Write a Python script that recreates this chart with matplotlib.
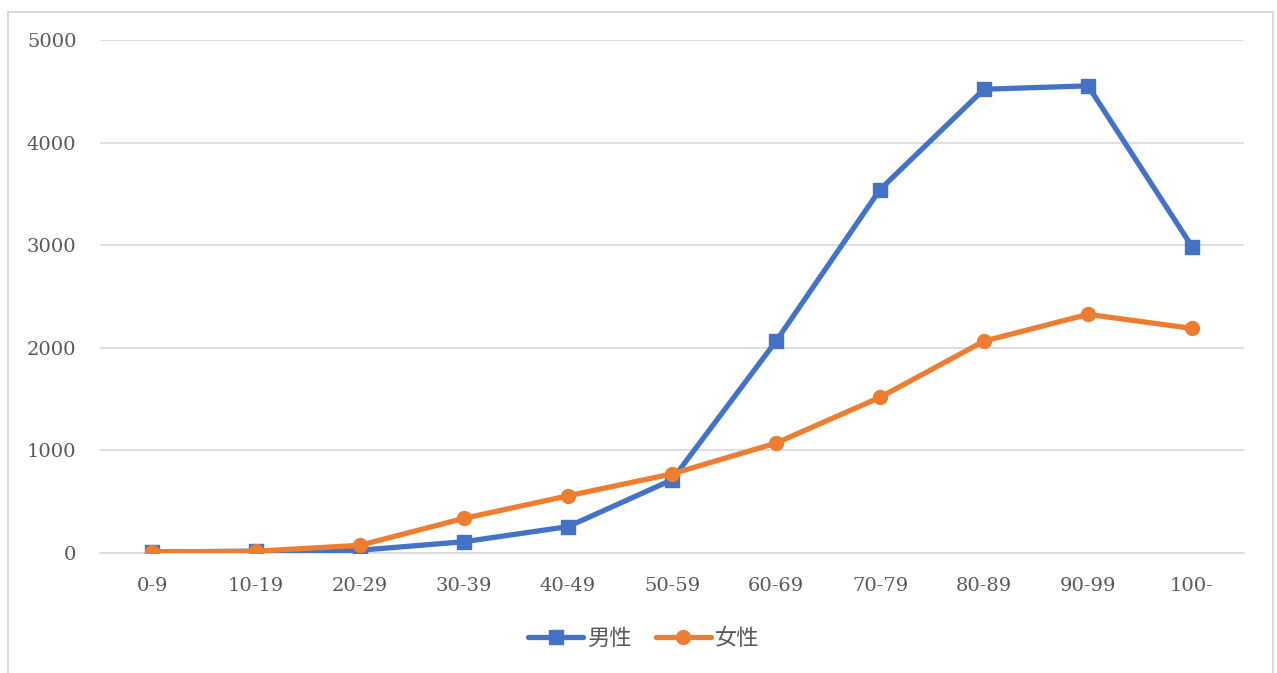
import matplotlib
matplotlib.use("Agg")
import matplotlib.pyplot as plt
from matplotlib.patches import Rectangle

# Age groups and counts
age_groups = ["0-9", "10-19", "20-29", "30-39", "40-49", "50-59",
              "60-69", "70-79", "80-89", "90-99", "100-"]
male = [10, 17, 27, 110, 257, 713, 2064, 3542, 4520, 4553, 2987]
female = [10, 17, 75, 338, 557, 771, 1071, 1517, 2065, 2326, 2189]
series_names = ["男性", "女性"]

blue = "#4472C4"
orange = "#ED7D31"
gray_text = "#595959"
grid_gray = "#D9D9D9"

fig = plt.figure(figsize=(12.77, 6.73), dpi=100)
ax = fig.add_axes([100 / 1277, 1 - 553 / 673, 1144 / 1277, 513 / 673])

x = range(len(age_groups))
ax.plot(x, male, color=blue, linewidth=3.8, marker="s", markersize=9.5,
        label=series_names[0], solid_capstyle="round", zorder=3)
ax.plot(x, female, color=orange, linewidth=3.8, marker="o", markersize=10,
        label=series_names[1], solid_capstyle="round", zorder=4)

ax.set_xlim(-0.5, len(age_groups) - 0.5)
ax.set_ylim(0, 5000)
ax.set_yticks(range(0, 5001, 1000))
ax.set_xticks(list(x))
ax.set_xticklabels(age_groups)

ax.grid(axis="y", color=grid_gray, linewidth=1.2)
ax.set_axisbelow(True)
for side in ["top", "right", "left"]:
    ax.spines[side].set_visible(False)
ax.spines["bottom"].set_color(grid_gray)
ax.spines["bottom"].set_linewidth(1.2)
ax.tick_params(length=0, labelsize=14, labelcolor=gray_text)
ax.tick_params(axis="x", pad=17)
ax.tick_params(axis="y", pad=17)
for lbl in ax.get_xticklabels() + ax.get_yticklabels():
    lbl.set_family("DejaVu Serif")

leg = ax.legend(loc="center", bbox_to_anchor=(0.475, -0.167), ncol=2, frameon=False,
                handlelength=2.5, columnspacing=1.1, handletextpad=0.15,
                prop={"family": ["Noto Sans CJK JP", "DejaVu Sans"], "size": 16})
for t in leg.get_texts():
    t.set_color(gray_text)

# outer chart border
fig.patches.append(Rectangle((7.5, -20), 1265, 673 - 12 + 20, transform=None,
                             fill=False, edgecolor=grid_gray, linewidth=1.5))

fig.savefig("out.png", dpi=100)
